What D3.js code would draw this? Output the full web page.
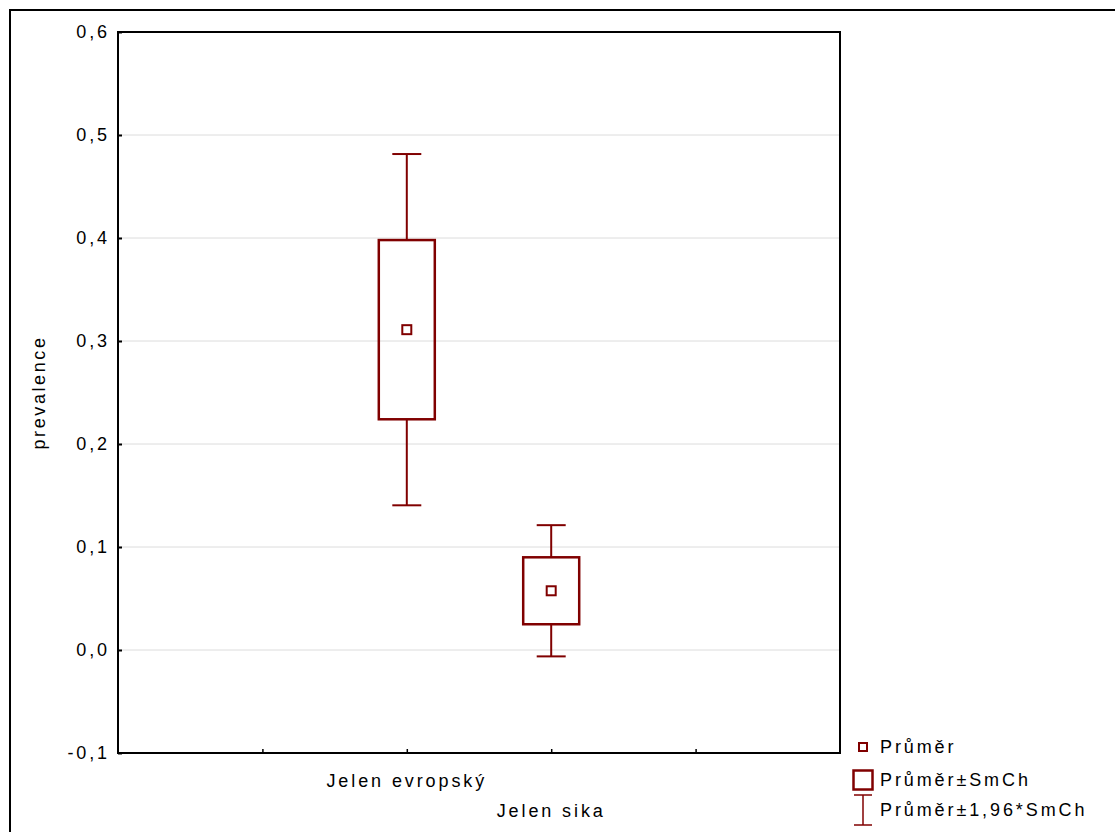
<!DOCTYPE html>
<html>
<head>
<meta charset="utf-8">
<script src="https://cdn.jsdelivr.net/npm/d3@7"></script>
<style>
  body { margin: 0; background: #fff; }
  svg text { font-family: Arial, "Liberation Sans", sans-serif; fill: #000; font-size: 18px; letter-spacing: 2.9px; }
</style>
</head>
<body>
<div id="chart"></div>
<script>
// data
var categories = ["Jelen evropský", "Jelen sika"];
var means = [0.311, 0.0575];
var se = [0.087, 0.0325];
var yTicks = [-0.1, 0.0, 0.1, 0.2, 0.3, 0.4, 0.5, 0.6];
var legendLabels = ["Průměr", "Průměr±SmCh", "Průměr±1,96*SmCh"];

var W = 1115, H = 832;
var margin = { top: 32, right: 275, bottom: 79, left: 118 };
var width = W - margin.left - margin.right,
	height = H - margin.top - margin.bottom;
var red = "#800000";

var svg = d3.select("#chart")
	.append("svg")
	.attr("width", W)
	.attr("height", H);

// outer frame
svg.append("rect")
	.attr("x", 10).attr("y", 10)
	.attr("width", W).attr("height", H)
	.attr("fill", "none")
	.attr("stroke", "#000")
	.attr("stroke-width", 2);

var g = svg.append("g")
	.attr("transform", "translate(" + margin.left + "," + margin.top + ")");

// scales: 5 slots, categories at slots 2 and 3
var x = d3.scaleLinear().domain([0, 5]).range([0, width]);
var y = d3.scaleLinear().domain([-0.1, 0.6]).range([height, 0]);
var fmt = function(d) { return d3.format(".1f")(d).replace(".", ",").replace("−", "-"); };

// grid
g.append("g")
	.selectAll("line")
	.data(yTicks.slice(1, -1))
	.enter()
	.append("line")
	.attr("x1", 0).attr("x2", width)
	.attr("y1", function(d) { return y(d); })
	.attr("y2", function(d) { return y(d); })
	.attr("stroke", "#dcdcdc")
	.attr("stroke-width", 1);

// y axis
var yAxis = g.append("g")
	.call(d3.axisLeft(y).tickValues(yTicks).tickSize(-4).tickPadding(8).tickFormat(fmt));
yAxis.select(".domain").remove();
yAxis.selectAll("line").attr("stroke", "#000").attr("stroke-width", 2);
yAxis.selectAll("text").style("font-size", "18px");

// x axis ticks (inner)
var xAxis = g.append("g")
	.attr("transform", "translate(0," + height + ")")
	.call(d3.axisBottom(x).tickValues([1, 2, 3, 4]).tickSize(-4).tickFormat(""));
xAxis.select(".domain").remove();
xAxis.selectAll("line").attr("stroke", "#000").attr("stroke-width", 1.5);

// x category labels, staggered
g.selectAll(".catlabel")
	.data(categories)
	.enter()
	.append("text")
	.attr("class", "catlabel")
	.attr("x", function(d, i) { return x(i + 2); })
	.attr("y", function(d, i) { return height + 34 + i * 30; })
	.attr("text-anchor", "middle")
	.text(function(d) { return d; });

// y label
g.append("text")
	.attr("transform", "rotate(-90)")
	.attr("x", -(y(0.25)))
	.attr("y", -73)
	.attr("text-anchor", "middle")
	.style("letter-spacing", "2.6px")
	.text("prevalence");

// plot frame
g.append("rect")
	.attr("width", width).attr("height", height)
	.attr("fill", "none")
	.attr("stroke", "#000")
	.attr("stroke-width", 2);

// boxes and whiskers
var boxW = 56, capW = 29, markS = 9;
var items = g.append("g")
	.selectAll("g")
	.data(categories)
	.enter()
	.append("g");

items.each(function(d, i) {
	var s = d3.select(this);
	var cx = x(i + 2), m = means[i], e = se[i], e2 = 1.96 * se[i];
	// whiskers
	s.append("line")
		.attr("x1", cx).attr("x2", cx)
		.attr("y1", y(m + e2)).attr("y2", y(m + e))
		.attr("stroke", red).attr("stroke-width", 2);
	s.append("line")
		.attr("x1", cx).attr("x2", cx)
		.attr("y1", y(m - e)).attr("y2", y(m - e2))
		.attr("stroke", red).attr("stroke-width", 2);
	[m + e2, m - e2].forEach(function(v) {
		s.append("line")
			.attr("x1", cx - capW / 2).attr("x2", cx + capW / 2)
			.attr("y1", y(v)).attr("y2", y(v))
			.attr("stroke", red).attr("stroke-width", 2);
	});
	s.append("rect")
		.attr("x", cx - boxW / 2)
		.attr("y", y(m + e))
		.attr("width", boxW)
		.attr("height", y(m - e) - y(m + e))
		.attr("fill", "none")
		.attr("stroke", red).attr("stroke-width", 2.5);
	s.append("rect")
		.attr("x", cx - markS / 2)
		.attr("y", y(m) - markS / 2)
		.attr("width", markS).attr("height", markS)
		.attr("fill", "none")
		.attr("stroke", red).attr("stroke-width", 2);
});

// legend
var lx = 863, ly = [747, 780, 810];
var legend = svg.append("g");
legend.append("rect")
	.attr("x", lx - 4).attr("y", ly[0] - 4)
	.attr("width", 8).attr("height", 8)
	.attr("fill", "none").attr("stroke", red).attr("stroke-width", 2);
legend.append("rect")
	.attr("x", lx - 9.5).attr("y", ly[1] - 9.5)
	.attr("width", 19).attr("height", 19)
	.attr("fill", "none").attr("stroke", red).attr("stroke-width", 2.5);
legend.append("line")
	.attr("x1", lx).attr("x2", lx)
	.attr("y1", ly[2] - 15).attr("y2", ly[2] + 15)
	.attr("stroke", red).attr("stroke-width", 1.5);
[ly[2] - 15, ly[2] + 15].forEach(function(v) {
	legend.append("line")
		.attr("x1", lx - 9).attr("x2", lx + 9)
		.attr("y1", v).attr("y2", v)
		.attr("stroke", red).attr("stroke-width", 1.5);
});
legend.selectAll("text")
	.data(legendLabels)
	.enter()
	.append("text")
	.attr("x", 880)
	.attr("y", function(d, i) { return ly[i]; })
	.attr("dy", "0.35em")
	.text(function(d) { return d; });
</script>
</body>
</html>
